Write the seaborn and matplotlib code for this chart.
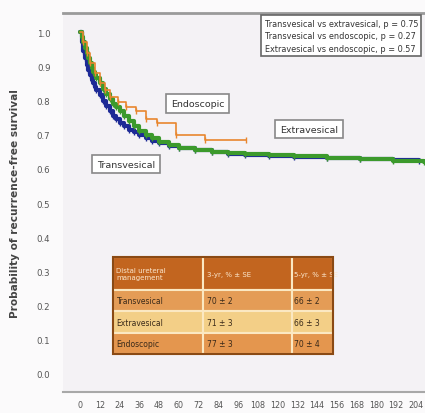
import numpy as np
import pandas as pd
import matplotlib
matplotlib.use("Agg")
import matplotlib.pyplot as plt
import seaborn as sns

# Kaplan-Meier estimates (months, recurrence-free survival) per distal ureteral management
trans_months = [0, 1, 2, 3, 4, 5, 6, 7, 8, 9, 10, 12, 14, 16, 18, 20, 22, 24, 27, 30, 33, 36,
                40, 44, 48, 54, 60, 70, 80, 90, 100, 115, 130, 150, 170, 190, 206]
trans_surv = [1.0, 0.97, 0.945, 0.925, 0.905, 0.89, 0.875, 0.86, 0.85, 0.84, 0.83, 0.815, 0.80,
              0.785, 0.77, 0.755, 0.745, 0.735, 0.725, 0.715, 0.707, 0.70, 0.69, 0.682, 0.675,
              0.667, 0.66, 0.655, 0.65, 0.645, 0.642, 0.638, 0.635, 0.632, 0.628, 0.625, 0.622]

extra_months = [0, 1, 2, 3, 4, 5, 6, 7, 8, 9, 10, 12, 14, 16, 18, 20, 22, 24, 27, 30, 33, 36,
                40, 44, 48, 54, 60, 70, 80, 90, 100, 115, 130, 150, 170, 190, 209]
extra_surv = [1.0, 0.985, 0.97, 0.955, 0.94, 0.925, 0.91, 0.895, 0.885, 0.875, 0.865, 0.85,
              0.835, 0.82, 0.805, 0.79, 0.78, 0.77, 0.755, 0.74, 0.725, 0.71, 0.70, 0.69, 0.68,
              0.67, 0.66, 0.655, 0.65, 0.647, 0.645, 0.64, 0.637, 0.633, 0.628, 0.624, 0.62]

endo_months = [0, 2, 4, 6, 9, 12, 15, 18, 23, 28, 34, 40, 47, 58, 76, 101]
endo_surv = [1.0, 0.97, 0.94, 0.91, 0.88, 0.85, 0.83, 0.81, 0.795, 0.78, 0.77, 0.745, 0.735,
             0.70, 0.685, 0.685]

groups = ["Transvesical", "Extravesical", "Endoscopic"]
colors = ["#1d2a96", "#3c9a2c", "#e8862e"]

x_ticks = [0, 12, 24, 36, 48, 60, 72, 84, 96, 108, 120, 132, 144, 156, 168, 180, 192, 204]
y_ticks = [0.0, 0.1, 0.2, 0.3, 0.4, 0.5, 0.6, 0.7, 0.8, 0.9, 1.0]

p_lines = ["Transvesical vs extravesical, p = 0.75",
           "Transvesical vs endoscopic, p = 0.27",
           "Extravesical vs endoscopic, p = 0.57"]

table_header = ["Distal ureteral\nmanagement", "3-yr, % \u00b1 SE", "5-yr, % \u00b1 SE"]
table_rows = groups
table_3yr = ["70 \u00b1 2", "71 \u00b1 3", "77 \u00b1 3"]
table_5yr = ["66 \u00b1 2", "66 \u00b1 3", "70 \u00b1 4"]

df = pd.concat([
    pd.DataFrame({"month": trans_months, "surv": trans_surv, "group": groups[0]}),
    pd.DataFrame({"month": extra_months, "surv": extra_surv, "group": groups[1]}),
    pd.DataFrame({"month": endo_months, "surv": endo_surv, "group": groups[2]}),
])

sns.set_style("white")
plt.rcParams["font.family"] = ["DejaVu Sans"]

fig = plt.figure(figsize=(4.25, 4.14), dpi=100, facecolor="#fbfafb")
ax = fig.add_axes([0.148, 0.0507, 0.852, 0.9153])
ax.set_facecolor("#f4f2f5")

widths = {groups[0]: 3.0, groups[1]: 3.0, groups[2]: 1.2}
for g, c in zip(groups, colors):
    sub = df[df["group"] == g]
    sns.lineplot(data=sub, x="month", y="surv", color=c, estimator=None,
                 drawstyle="steps-post", linewidth=widths[g], ax=ax, legend=False)
    # censoring marks
    ax.plot(sub["month"].values[1:], sub["surv"].values[1:], linestyle="none",
            marker="|", markersize=4 if g != groups[2] else 5, color=c,
            markeredgewidth=1.0)

ax.set_xlim(-10.4, 209.5)
ax.set_ylim(-0.053, 1.056)
ax.set_xticks(x_ticks)
ax.set_xticklabels([str(t) for t in x_ticks])
ax.set_yticks(y_ticks)
ax.set_yticklabels([f"{t:.1f}" for t in y_ticks])
ax.tick_params(axis="x", labelsize=5.8, colors="#666666", length=3, width=0.8,
               labelcolor="#555555", pad=3)
ax.tick_params(axis="y", labelsize=6.2, colors="#666666", length=3, width=0.8,
               labelcolor="#555555", pad=6)
ax.set_xlabel("")
ax.set_ylabel("Probability of recurrence-free survival", fontsize=7.6,
              color="#444444", fontweight="bold", labelpad=12)

for side in ["left", "right"]:
    ax.spines[side].set_visible(False)
ax.spines["top"].set_color("#9a9a9a")
ax.spines["top"].set_linewidth(2)
ax.spines["bottom"].set_color("#a8a8a8")
ax.spines["bottom"].set_linewidth(1.5)

# p-value box
ax.text(0.557, 0.985, "\n".join(p_lines), transform=ax.transAxes, ha="left", va="top",
        fontsize=5.9, color="#333333", linespacing=1.5,
        bbox=dict(boxstyle="square,pad=0.4", facecolor="white", edgecolor="#666666",
                  linewidth=1.2))

# curve labels
lbl_box = dict(boxstyle="square,pad=0.5", facecolor="white", edgecolor="#888888", linewidth=1.2)
ax.text(71.5, 0.792, "Endoscopic", fontsize=6.8, color="#333333", ha="center", va="center",
        bbox=lbl_box)
ax.text(139, 0.716, "Extravesical", fontsize=6.8, color="#333333", ha="center", va="center",
        bbox=lbl_box)
ax.text(28, 0.614, "Transvesical", fontsize=6.8, color="#333333", ha="center", va="center",
        bbox=lbl_box)

# survival table
tab_box = [0.138, 0.10, 0.608, 0.256]
tab = ax.table(cellText=[[r, a, b] for r, a, b in zip(table_rows, table_3yr, table_5yr)],
               colLabels=table_header, cellLoc="left", colLoc="left",
               colWidths=[0.249, 0.246, 0.113],
               bbox=tab_box)
tab.auto_set_font_size(False)
row_colors = ["#e49c56", "#f3cf87", "#e4964e"]
for (r, c), cell in tab.get_celld().items():
    cell.set_edgecolor("#fbe8c2")
    cell.set_linewidth(1.5)
    if r == 0:
        cell.set_facecolor("#c2651f")
        cell.get_text().set_color("#fbe6cc")
        cell.get_text().set_fontsize(5.0)
        cell.set_height(0.34)
    else:
        cell.set_facecolor(row_colors[r - 1])
        cell.get_text().set_color("#3a2a1a")
        cell.get_text().set_fontsize(5.5)
        cell.set_height(0.22)
    cell.PAD = 0.04
frame = plt.Rectangle((tab_box[0], tab_box[1]), tab_box[2], tab_box[3], transform=ax.transAxes,
                      fill=False, edgecolor="#8a4a14", linewidth=1.5, zorder=10)
ax.add_patch(frame)

fig.savefig("out.png", dpi=100, facecolor=fig.get_facecolor())
